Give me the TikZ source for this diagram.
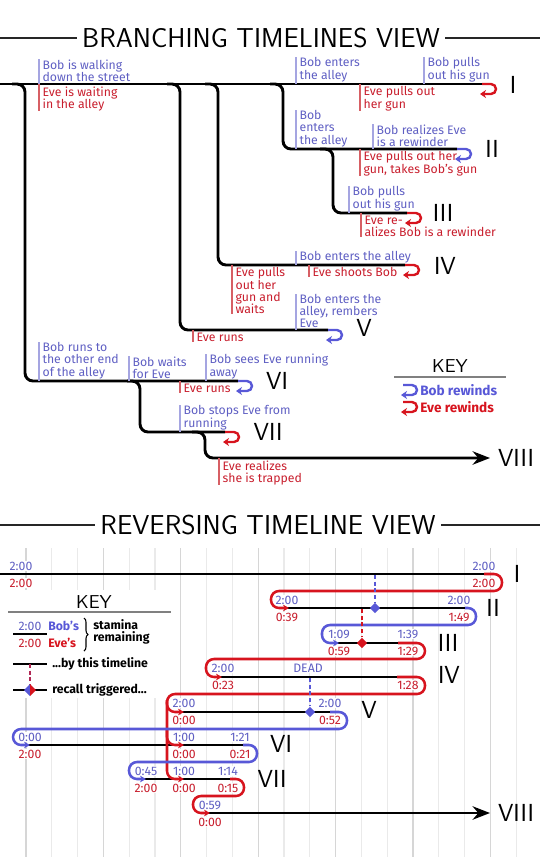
\documentclass[tikz,border=0pt]{standalone}
\usepackage{fontspec}
\setmainfont{Fira Sans}
\usetikzlibrary{arrows.meta, shapes.geometric, decorations.pathreplacing}

\definecolor{bobc}{RGB}{88,88,215}
\definecolor{evec}{RGB}{215,20,30}
\definecolor{bobtxt}{RGB}{95,95,195}
\definecolor{evetxt}{RGB}{200,30,45}
\definecolor{boblt}{RGB}{165,165,225}
\definecolor{evelt}{RGB}{215,95,100}
\definecolor{gridl}{RGB}{234,234,234}
\definecolor{gridd}{RGB}{214,214,214}

\newcommand{\lbl}{\fontsize{9.2}{9.2}\selectfont}
\newcommand{\ttl}{\sffamily\fontsize{20.5}{24}\selectfont}
\newcommand{\romfont}{\sffamily\fontsize{18.5}{20}\selectfont}
\newcommand{\keyfont}{\sffamily\fontsize{14}{16}\selectfont}
\newcommand{\keybold}{\fontsize{10.2}{11}\selectfont\bfseries}

\begin{document}
\begin{tikzpicture}[x=0.75pt, y=-0.75pt,
    tl/.style={line width=2.2pt, rounded corners=6pt},
    recall/.style={line width=1.9pt, rounded corners=6pt, -{Stealth[length=4.5pt, width=5pt]}},
    rewind/.pic={\draw[line width=1.8pt, -{Stealth[length=4.5pt, width=6pt]}]
        (0,0) -- (9,0) arc[start angle=90, end angle=-90, radius=3.75pt] -- (-2,10);},
    bobnote/.style={anchor=south west, align=left, text=bobtxt, font=\lbl, inner xsep=2.5pt, inner ysep=0pt},
    evenote/.style={anchor=north west, align=left, text=evetxt, font=\lbl, inner xsep=2.5pt, inner ysep=0pt},
    bobnum/.style={text=bobtxt, font=\lbl, fill=white, inner sep=0.5pt},
    evenum/.style={text=evetxt, font=\lbl, fill=white, inner sep=0.5pt},
    roman/.style={font=\romfont, inner sep=0pt},
    title/.style={font=\ttl, inner xsep=4pt},
    rule/.style={line width=0.9pt, black!85},
    trig/.style={line width=1pt, dash pattern=on 3pt off 2pt},
    dia/.style={diamond, inner sep=0pt, minimum size=8pt},
    keytxt/.style={anchor=west, font=\lbl\bfseries, inner sep=0pt},
]
    \useasboundingbox (0,0) rectangle (540,857);

    % ---------- branching view ----------
    \node[title] (bt) at (261,38) {BRANCHING TIMELINES VIEW};
    \draw[rule] (0,38) -- (bt.west);
    \draw[rule] (bt.east) -- (540,38);

    % Timelines
    \draw[tl] (0,84) -- (482,84) coordinate (tI);
    \draw[tl] (270,84) -- (283,84) -- (283,149) -- (457,149) coordinate (tII);
    \draw[tl] (320,149) -- (333,149) -- (333,213) -- (407,213) coordinate (tIII);
    \draw[tl] (205,84) -- (218,84) -- (218,265) -- (405,265) coordinate (tIV);
    \draw[tl] (167,84) -- (180,84) -- (180,330) -- (328,330) coordinate (tV);
    \draw[tl] (12,84) -- (25,84) -- (25,381) -- (238,381) coordinate (tVI);
    \draw[tl] (127,381) -- (140,381) -- (140,432) -- (225,432) coordinate (tVII);
    \draw[tl, -{Stealth[length=13pt, width=10pt]}] (192,432) -- (205,432) -- (205,458) -- (490,458) coordinate (tVIII);

    % Rewinds
    \foreach \p/\c in {tI/evec, tII/bobc, tIII/evec, tIV/evec, tV/bobc, tVI/bobc, tVII/evec}
        \pic[\c] at (\p) {rewind};

    % Bob's notes (above)
    \foreach \x/\y/\t [count=\i] in {39/84/{Bob is walking\\down the street},
        296/84/{Bob enters\\the alley}, 424/84/{Bob pulls\\out his gun},
        296/149/{Bob\\enters\\the alley}, 373/149/{Bob realizes Eve\\is a rewinder},
        349/213/{Bob pulls\\out his gun}, 296/265/{Bob enters the alley},
        296/330/{Bob enters the\\alley, rembers\\Eve},
        39/381/{Bob runs to\\the other end\\of the alley}, 129/381/{Bob waits\\for Eve},
        206/381/{Bob sees Eve running\\away}, 180/432/{Bob stops Eve from\\running}}
    {
        \node[bobnote] (bob\i) at (\x,\y-2) {\t};
        \draw[boblt, line width=0.9pt] (\x,\y) -- (bob\i.north west);
    }

    % Eve's notes (below)
    \foreach \x/\y/\t [count=\i] in {39/84/{Eve is waiting\\in the alley},
        360/84/{Eve pulls out\\her gun}, 360/149/{Eve pulls out her\\gun, takes Bob's gun},
        361/213/{Eve re-\\alizes Bob is a rewinder}, 309/265/{Eve shoots Bob},
        232/265/{Eve pulls\\out her\\gun and\\waits}, 193/330/{Eve runs},
        180/381/{Eve runs}, 219/458/{Eve realizes\\she is trapped}}
    {
        \node[evenote] (eve\i) at (\x,\y+2.5) {\t};
        \draw[evelt, line width=0.9pt] (\x,\y) -- (eve\i.south west);
    }

    % Numerals
    \foreach \x/\y/\r in {513/85/I, 492/149/II, 443/213/III, 445/266/IV,
        364/328/V, 277/381/VI, 268/432/VII, 516/458/VIII}
        \node[roman] (b\r) at (\x,\y) {\r};

    % Key
    \node[font=\keyfont] (keyb) at (450,366) {KEY};
    \draw[gray, line width=1pt] (394,377) -- (506,377);
    \pic[bobc] at (403,385) {rewind};
    \pic[evec] at (403,402) {rewind};
    \node[keytxt, text=bobc, font=\keybold] (kbr) at (420,390) {Bob rewinds};
    \node[keytxt, text=evec, font=\keybold] (ker) at (420,407) {Eve rewinds};

    % ---------- reversing view ----------
    \node[title] (rt) at (268,525) {REVERSING TIMELINE VIEW};
    \draw[rule] (0,525) -- (rt.west);
    \draw[rule] (rt.east) -- (540,525);

    % Grid
    \foreach \k in {0,...,19} {
        \pgfmathtruncatemacro\m{mod(\k,3)}
        \ifnum\m=0 \def\gc{gridd}\else\def\gc{gridl}\fi
        \draw[\gc, line width=0.9pt] (26+25.8*\k,548) -- (26+25.8*\k,857);
    }
    \fill[white] (0,590) rectangle (176,698);

    % Stamina labels
    \foreach \x/\y/\t [count=\i] in {21/566/2:00, 484/566/2:00, 287/600/2:00, 459/600/2:00,
        339/634/1:09, 408/634/1:39, 223/668/2:00, 308/668/DEAD, 184/703/2:00, 330/703/2:00,
        30/737/0:00, 184/737/1:00, 240/737/1:21, 146/771/0:45, 184/771/1:00, 228/771/1:14,
        210/805/0:59}
        \node[bobnum] (bn\i) at (\x,\y) {\t};
    \foreach \x/\y/\t [count=\i] in {21/583/2:00, 484/583/2:00, 287/617/0:39, 459/617/1:49,
        339/651/0:59, 408/651/1:29, 223/685/0:23, 408/685/1:28, 184/720/0:00, 330/720/0:52,
        30/754/2:00, 184/754/0:00, 240/754/0:21, 146/788/2:00, 184/788/0:00, 228/788/0:15,
        210/822/0:00}
        \node[evenum] (en\i) at (\x,\y) {\t};

    % Timelines
    \draw[tl] (0,574) -- (488,574);
    \draw[tl] (283,608) -- (467,608);
    \draw[tl] (333,643) -- (400,643);
    \draw[tl] (218,677) -- (400,677);
    \draw[tl] (180,712) -- (332,712);
    \draw[tl] (26,745) -- (245,745);
    \draw[tl] (140,779) -- (230,779);
    \draw[tl, -{Stealth[length=13pt, width=10pt]}] (205,813) -- (490,813);

    % Recalls
    \draw[recall, evec] (484,574) -- (502,574) -- (502,591) -- (271,591) -- (271,608) -- (289,608);
    \draw[recall, bobc] (465,608) -- (476,608) -- (476,625) -- (322,625) -- (322,643) -- (339,643);
    \draw[recall, evec] (398,643) -- (425,643) -- (425,659) -- (206,659) -- (206,677) -- (222,677);
    \draw[recall, evec] (397,677) -- (425,677) -- (425,694) -- (167,694) -- (167,712) -- (184,712);
    \draw[recall, evec] (167,700) -- (167,779) -- (184,779);
    \draw[recall, evec] (167,730) -- (167,745) -- (184,745);
    \draw[recall, bobc] (330,712) -- (347,712) -- (347,729) -- (13,729) -- (13,745) -- (30,745);
    \draw[recall, bobc] (243,745) -- (257,745) -- (257,762) -- (129,762) -- (129,779) -- (146,779);
    \draw[recall, evec] (230,779) -- (244,779) -- (244,796) -- (193,796) -- (193,813) -- (210,813);

    % Triggers
    \node[dia, fill=bobc] (d1) at (375,608) {};
    \node[dia, fill=evec] (d2) at (362,643) {};
    \node[dia, fill=bobc] (d3) at (310,712) {};
    \draw[trig, bobc] (375,575) -- (d1);
    \draw[trig, evec] (362,609) -- (d2);
    \draw[trig, bobc] (310,678) -- (d3);

    % Numerals
    \foreach \x/\y/\r in {517/574/I, 493/608/II, 448/643/III, 449/675/IV,
        369/710/V, 281/744/VI, 272/779/VII, 516/813/VIII}
        \node[roman] (r\r) at (\x,\y) {\r};

    % Key
    \node[font=\keyfont] (keyr) at (94,602) {KEY};
    \draw[gray, line width=1pt] (8,612) -- (171,612);
    \draw[tl] (13,634) -- (47,634);
    \node[bobnum] (kb) at (30,626) {2:00};
    \node[evenum] (ke) at (30,643) {2:00};
    \node[keytxt, text=bobc] (kbs) at (48,626) {Bob's};
    \node[keytxt, text=evec] (kes) at (48,643) {Eve's};
    \draw[decorate, decoration={brace, amplitude=3pt}, line width=0.8pt] (84,618) -- (84,651);
    \node[keytxt, align=left] (kst) at (93,632) {stamina\\remaining};
    \draw[tl] (13,664) -- (47,664);
    \node[keytxt] (kby) at (52,664) {...by this timeline};
    \draw[trig, evec!70!bobc] (30,664) -- (30,690);
    \draw[tl] (13,690) -- (47,690);
    \fill[bobc] (30,684) -- (24,690) -- (30,696) -- cycle;
    \fill[evec] (30,684) -- (36,690) -- (30,696) -- cycle;
    \node[keytxt] (krt) at (52,690) {recall triggered...};
\end{tikzpicture}
\end{document}
